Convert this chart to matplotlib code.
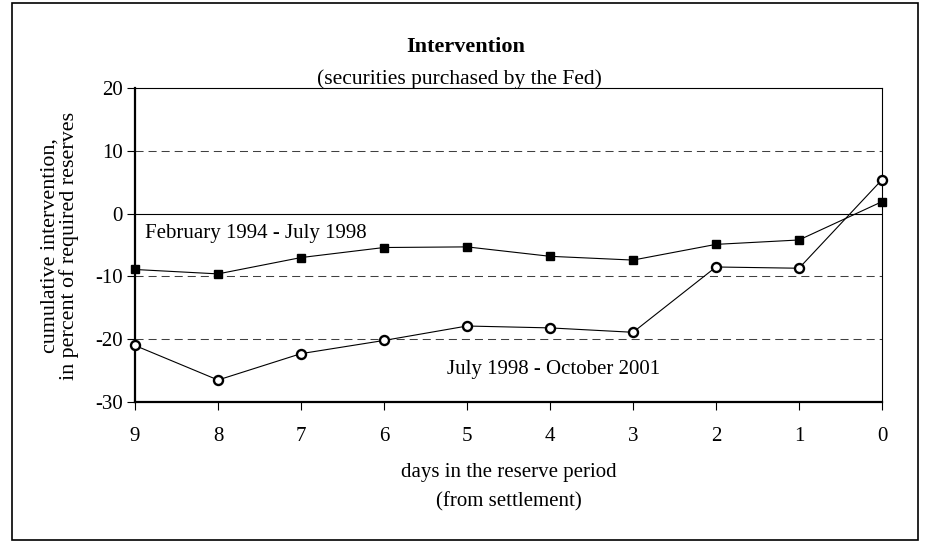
import matplotlib
matplotlib.use("Agg")
import matplotlib.pyplot as plt
from matplotlib.patches import Rectangle

plt.rcParams['font.family'] = ['Liberation Serif', 'DejaVu Serif']
plt.rcParams['lines.scale_dashes'] = False

days = [9, 8, 7, 6, 5, 4, 3, 2, 1, 0]
feb94_jul98 = [-8.9, -9.6, -7.0, -5.4, -5.3, -6.8, -7.4, -4.9, -4.2, 1.9]
jul98_oct01 = [-21.0, -26.5, -22.3, -20.2, -17.9, -18.2, -18.9, -8.5, -8.7, 5.4]
yticks = [-30, -20, -10, 0, 10, 20]
dashed_levels = [10, -10, -20]
label_feb = "February 1994 - July 1998"
label_jul = "July 1998 - October 2001"

fig = plt.figure(figsize=(9.25, 5.43), dpi=100)
ax = fig.add_axes([135/925, 1-402/543, (882-135)/925, (402-88)/543])

for lv in dashed_levels:
    ax.axhline(lv, color='#404040', lw=0.75, linestyle=(0, (5.8, 3.6)), zorder=1)
ax.axhline(0, color='black', lw=0.8, zorder=1)

ax.plot(days, feb94_jul98, color='black', lw=0.8, marker='s', markersize=5.8,
        markerfacecolor='black', markeredgecolor='black', zorder=3, clip_on=False)
ax.plot(days, jul98_oct01, color='black', lw=0.8, marker='o', markersize=6.5,
        markerfacecolor='white', markeredgecolor='black', markeredgewidth=1.7,
        zorder=3, clip_on=False)

ax.set_xlim(9, 0)
ax.set_ylim(-30, 20)
ax.set_xticks(days)
ax.set_xticklabels([str(d) for d in days])
ax.set_yticks(yticks)
ax.set_yticklabels([str(v) for v in yticks])
ax.tick_params(axis='both', labelsize=15, direction='out', length=6, width=0.8, color='black')
ax.tick_params(axis='x', pad=12)
ax.tick_params(axis='y', pad=3)

for s in ['left', 'bottom']:
    ax.spines[s].set_linewidth(1.6)
for s in ['top', 'right']:
    ax.spines[s].set_linewidth(0.8)

ax.text(8.88, -3.2, label_feb, fontsize=15, ha='left', va='center')
ax.text(5.24, -24.9, label_jul, fontsize=15, ha='left', va='center')

fig.text(466/925, 1-47/543, "Intervention", fontsize=16, fontweight='bold', ha='center', va='center')
fig.text(459/925, 1-79/543, "(securities purchased by the Fed)", fontsize=15.5, ha='center', va='center')
fig.text(509/925, 1-473/543, "days in the reserve period", fontsize=15, ha='center', va='center')
fig.text(509/925, 1-502/543, "(from settlement)", fontsize=15, ha='center', va='center')
fig.text(60/925, 1-246/543, "cumulative intervention,\nin percent of required reserves",
         fontsize=15.8, rotation=90, ha='center', va='center', multialignment='center',
         linespacing=1.0)

fig.patches.append(Rectangle((12/925, 1-540/543), (918-12)/925, (540-3)/543,
                             transform=fig.transFigure, fill=False, edgecolor='black', lw=1.2))

fig.savefig("out.png", dpi=100)
